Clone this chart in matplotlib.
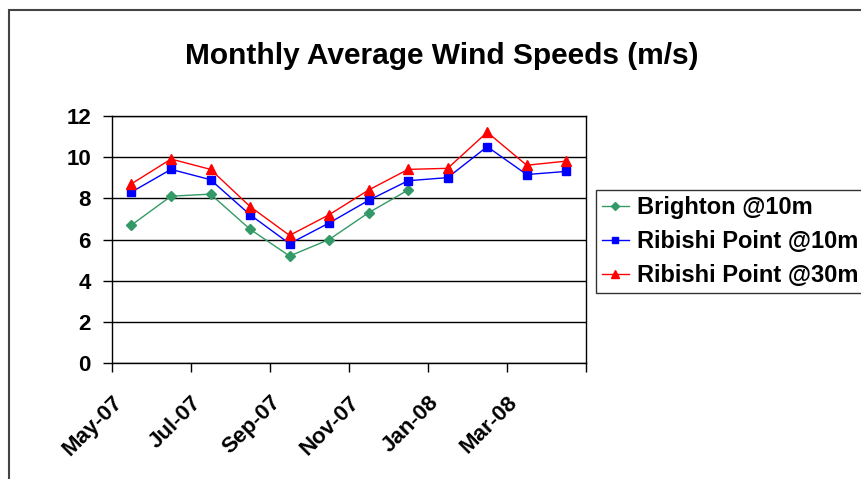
import numpy as np
import matplotlib
matplotlib.use("Agg")
import matplotlib.pyplot as plt
from matplotlib.patches import Rectangle

plt.rcParams['font.family'] = ['Liberation Sans', 'DejaVu Sans']

# data
months = ['May-07', 'Jun-07', 'Jul-07', 'Aug-07', 'Sep-07', 'Oct-07',
          'Nov-07', 'Dec-07', 'Jan-08', 'Feb-08', 'Mar-08', 'Apr-08']
brighton_10 = [6.7, 8.1, 8.2, 6.5, 5.2, 6.0, 7.3, 8.4]
ribishi_10 = [8.3, 9.4, 8.9, 7.2, 5.8, 6.8, 7.9, 8.85, 9.0, 10.5, 9.15, 9.3]
ribishi_30 = [8.7, 9.9, 9.4, 7.6, 6.2, 7.2, 8.4, 9.4, 9.45, 11.2, 9.6, 9.8]

fig = plt.figure(figsize=(8.62, 4.79), dpi=100)
ax = fig.add_axes([0.1296, 0.2415, 0.5502, 0.5169])

x = np.arange(len(months))
ax.plot(x[:len(brighton_10)], brighton_10, color='#339966', lw=1, marker='D', ms=5,
        label='Brighton @10m')
ax.plot(x, ribishi_10, color='#0000FF', lw=1, marker='s', ms=5.5,
        label='Ribishi Point @10m')
ax.plot(x, ribishi_30, color='#FF0000', lw=1, marker='^', ms=6.5,
        label='Ribishi Point @30m')

ax.set_xlim(-0.5, len(months) - 0.5)
ax.set_ylim(0, 12)
ax.set_yticks(range(0, 13, 2))
ax.yaxis.grid(True, color='black', lw=1)
ax.set_axisbelow(True)

ticks = np.arange(-0.5, len(months), 2)
labels = months[::2] + ['']
ax.set_xticks(ticks)
ax.set_xticklabels(labels, rotation=45, ha='right', rotation_mode='anchor')
ax.tick_params(axis='both', direction='out', length=6.5, width=1, colors='black',
               labelsize=16)
ax.tick_params(axis='y', pad=8.5)
ax.tick_params(axis='x', pad=14)
for lab in ax.get_xticklabels() + ax.get_yticklabels():
    lab.set_fontweight('bold')
for s in ax.spines.values():
    s.set_color('black')
    s.set_linewidth(1)

fig.text(442 / 862, 1 - 56 / 479, 'Monthly Average Wind Speeds (m/s)', ha='center',
         va='center', fontsize=21.5, fontweight='bold')

leg = fig.legend(loc='upper left', bbox_to_anchor=(596 / 862, 1 - 190 / 479),
                 frameon=True, fancybox=False, edgecolor='black',
                 prop={'size': 17, 'weight': 'bold'}, handlelength=1.15,
                 labelspacing=0.47, borderpad=0.25, handletextpad=0.35,
                 borderaxespad=0, markerscale=0.8)
leg.get_frame().set_linewidth(1)

# outer chart frame
fig.patches.append(Rectangle((9 / 862, -0.1), 1.1, 1 - 10 / 479 + 0.1,
                             transform=fig.transFigure, fill=False,
                             edgecolor='#444444', lw=1.5))

fig.savefig('out.png', dpi=100)
